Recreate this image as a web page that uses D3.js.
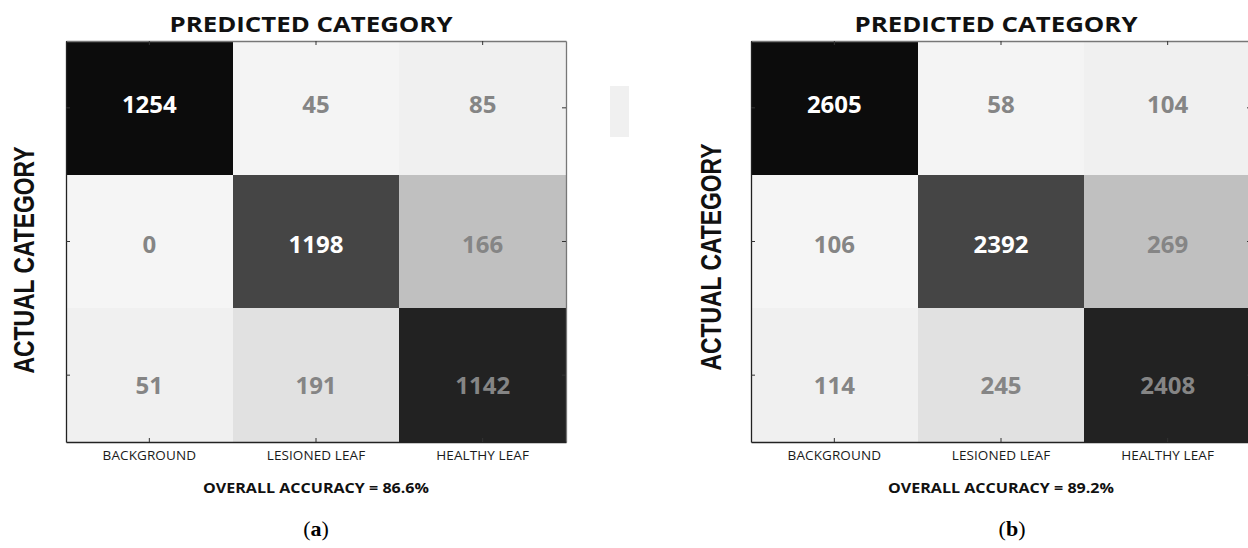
<!DOCTYPE html>
<html>
<head>
<meta charset="utf-8">
<script src="https://cdn.jsdelivr.net/npm/d3@7/dist/d3.min.js"></script>
<style>
  html, body { margin: 0; padding: 0; background: #ffffff; }
  svg { display: block; }
</style>
</head>
<body>
<svg id="chart" width="1248" height="548"></svg>
<script>
// ---------------- data ----------------
const categories = ["BACKGROUND", "LESIONED LEAF", "HEALTHY LEAF"];
const valuesA = [
  [1254, 45, 85],
  [0, 1198, 166],
  [51, 191, 1142]
];
const valuesB = [
  [2605, 58, 104],
  [106, 2392, 269],
  [114, 245, 2408]
];
// cell darkness (0 = white, 1 = black)
const shadeLevels = [
  [0.99, 0.01, 0.025],
  [0.005, 0.75, 0.23],
  [0.025, 0.09, 0.9]
];
const lightLabelCells = [[0, 0], [1, 1]];
const accuracies = ["86.6%", "89.2%"];
const captions = ["(a)", "(b)"];
const titleText = "PREDICTED CATEGORY";
const yTitleText = "ACTUAL CATEGORY";
const accuracyPrefix = "OVERALL ACCURACY = ";

// ---------------- drawing ----------------
const svg = d3.select("#chart");
const shade = d3.scaleLinear().domain([0, 1]).range(["#f6f6f6", "#0a0a0a"]);
const top0 = 41, bottom0 = 442, plotW = 500;
const numFont = "'Open Sans', 'Noto Sans', sans-serif";

function isLight(r, c) {
  return lightLabelCells.some(p => p[0] === r && p[1] === c);
}

function drawPanel(values, x0, accuracy, caption, yLabelX, yLabelY, titleX, capX) {
  const g = svg.append("g");
  const x = d3.scaleBand().domain(categories).range([x0, x0 + plotW]);
  const y = d3.scaleBand().domain(categories).range([top0, bottom0]);
  const ty = d3.scalePoint().domain(categories).range([top0 + 63, bottom0 - 57]);

  const cells = [];
  values.forEach((row, r) => row.forEach((v, c) => cells.push({r, c, v})));

  g.selectAll("rect.cell").data(cells).join("rect")
    .attr("class", "cell")
    .attr("x", d => x(categories[d.c]))
    .attr("y", d => y(categories[d.r]))
    .attr("width", x.bandwidth())
    .attr("height", y.bandwidth())
    .attr("fill", d => shade(shadeLevels[d.r][d.c]))
    .attr("shape-rendering", "crispEdges");

  g.selectAll("text.val").data(cells).join("text")
    .attr("class", "val")
    .attr("x", d => x(categories[d.c]) + x.bandwidth() / 2)
    .attr("y", d => ty(categories[d.r]))
    .attr("dy", "0.36em")
    .attr("text-anchor", "middle")
    .attr("font-family", numFont)
    .attr("font-weight", 700)
    .attr("font-size", 24)
    .attr("fill", d => isLight(d.r, d.c) ? "#ffffff" : "#858585")
    .text(d => d.v);

  // axes (ticks point inward)
  const axTop = g.append("g").attr("transform", `translate(0,${top0})`)
    .call(d3.axisTop(x).tickSize(-4).tickSizeOuter(0).tickFormat(""));
  const axRight = g.append("g").attr("transform", `translate(${x0 + plotW},0)`)
    .call(d3.axisRight(y).tickSize(-4).tickSizeOuter(0).tickFormat(""));
  const axLeft = g.append("g").attr("transform", `translate(${x0},0)`)
    .call(d3.axisLeft(y).tickSize(-4).tickSizeOuter(0).tickFormat(""));
  const axBottom = g.append("g").attr("transform", `translate(0,${bottom0})`)
    .call(d3.axisBottom(x).tickSize(-4).tickSizeOuter(0).tickPadding(8));

  [axTop, axRight].forEach(a => {
    a.select(".domain").attr("stroke", "#777").attr("stroke-width", 1.3);
    a.selectAll(".tick line").attr("stroke", "#333");
  });
  [axLeft, axBottom].forEach(a => {
    a.select(".domain").attr("stroke", "#222").attr("stroke-width", 1.3);
    a.selectAll(".tick line").attr("stroke", "#333");
  });
  axBottom.selectAll(".tick text")
    .attr("font-family", numFont)
    .attr("font-size", 13.5)
    .attr("letter-spacing", "0.1px")
    .attr("fill", "#1a1a1a");

  // titles
  g.append("text")
    .attr("x", titleX).attr("y", 32)
    .attr("text-anchor", "middle")
    .attr("font-family", numFont)
    .attr("font-weight", 700)
    .attr("font-size", 22)
    .attr("textLength", 283)
    .attr("lengthAdjust", "spacingAndGlyphs")
    .attr("fill", "#111")
    .text(titleText);

  g.append("text")
    .attr("transform", `translate(${yLabelX},${yLabelY}) rotate(-90)`)
    .attr("text-anchor", "middle")
    .attr("font-family", "'Liberation Sans', Arial, sans-serif")
    .attr("font-weight", 700)
    .attr("font-size", 29)
    .attr("textLength", 227)
    .attr("lengthAdjust", "spacingAndGlyphs")
    .attr("fill", "#111")
    .text(yTitleText);

  g.append("text")
    .attr("x", x0 + plotW / 2).attr("y", 493)
    .attr("text-anchor", "middle")
    .attr("font-family", numFont)
    .attr("font-weight", 700)
    .attr("font-size", 15)
    .attr("textLength", 226)
    .attr("lengthAdjust", "spacingAndGlyphs")
    .attr("fill", "#111")
    .text(accuracyPrefix + accuracy);

  g.append("text")
    .attr("x", capX).attr("y", 536)
    .attr("text-anchor", "middle")
    .attr("font-family", "'Liberation Serif', 'DejaVu Serif', serif")
    .attr("font-size", 22)
    .attr("fill", "#000")
    .call(t => {
      t.append("tspan").text("(");
      t.append("tspan").attr("font-weight", 700).text(caption.slice(1, -1));
      t.append("tspan").text(")");
    });
}

drawPanel(valuesA, 66, accuracies[0], captions[0], 34, 260, 311, 316);
drawPanel(valuesB, 751, accuracies[1], captions[1], 721, 257, 996, 1012);

// leftover light-grey strip between the two panels
svg.append("rect")
  .attr("x", 610).attr("y", 86).attr("width", 19).attr("height", 51)
  .attr("fill", "#f0f0f0");
</script>
</body>
</html>
